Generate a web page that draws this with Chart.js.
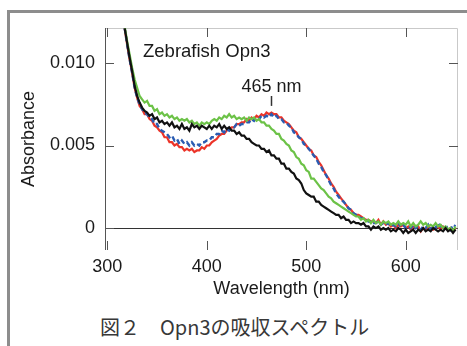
<!DOCTYPE html>
<html>
<head>
<meta charset="utf-8">
<script src="https://cdn.jsdelivr.net/npm/chart.js@4/dist/chart.umd.min.js"></script>
<style>
    body { margin: 0; width: 467px; height: 346px; overflow: hidden; background: #fff; position: relative; }
    .frame {
        position: absolute; left: 7px; top: 10px; width: 500px; height: 400px;
        border-top: 3px solid #8d8d8d; border-left: 3px solid #8d8d8d;
    }
    #chartWrap { position: absolute; left: 0; top: 0; width: 467px; height: 310px; }
    .caption {
        position: absolute; left: 100px; top: 314px; line-height: 26px;
        font-family: "Noto Sans CJK JP", sans-serif; font-size: 20px; color: #383838;
        white-space: nowrap;
    }
</style>
</head>
<body>
<div class="frame"></div>
<div id="chartWrap"><canvas id="absChart" width="467" height="310"></canvas></div>
<div class="caption">図２　Opn3の吸収スペクトル</div>
<script>
// wavelength grid (nm), 10 per row
const wavelengths = [
    317.5, 320, 322.5, 325, 327.5, 330, 332.5, 335, 337.5, 340,
    342.5, 345, 347.5, 350, 352.5, 355, 357.5, 360, 362.5, 365,
    367.5, 370, 372.5, 375, 377.5, 380, 382.5, 385, 387.5, 390,
    392.5, 395, 397.5, 400, 402.5, 405, 407.5, 410, 412.5, 415,
    417.5, 420, 422.5, 425, 427.5, 430, 432.5, 435, 437.5, 440,
    442.5, 445, 447.5, 450, 452.5, 455, 457.5, 460, 462.5, 465,
    467.5, 470, 472.5, 475, 477.5, 480, 482.5, 485, 487.5, 490,
    492.5, 495, 497.5, 500, 502.5, 505, 507.5, 510, 512.5, 515,
    517.5, 520, 522.5, 525, 527.5, 530, 532.5, 535, 537.5, 540,
    542.5, 545, 547.5, 550, 552.5, 555, 557.5, 560, 562.5, 565,
    567.5, 570, 572.5, 575, 577.5, 580, 582.5, 585, 587.5, 590,
    592.5, 595, 597.5, 600, 602.5, 605, 607.5, 610, 612.5, 615,
    617.5, 620, 622.5, 625, 627.5, 630, 632.5, 635, 637.5, 640,
    642.5, 645, 647.5, 650];

const blackAbs = [
    0.0121, 0.0112, 0.0103, 0.0095, 0.0086, 0.0080, 0.0076, 0.0073, 0.0071, 0.0070,
    0.0068, 0.0069, 0.0066, 0.0067, 0.0064, 0.0065, 0.0063, 0.0064, 0.0062, 0.0064,
    0.0061, 0.0062, 0.0060, 0.0063, 0.0060, 0.0061, 0.0059, 0.0063, 0.0061, 0.0062,
    0.0060, 0.0062, 0.0061, 0.0060, 0.0062, 0.0060, 0.0062, 0.0061, 0.0063, 0.0060,
    0.0062, 0.0060, 0.0061, 0.0059, 0.0059, 0.0057, 0.0058, 0.0056, 0.0056, 0.0054,
    0.0054, 0.0052, 0.0051, 0.0050, 0.0050, 0.0048, 0.0048, 0.0046, 0.0047, 0.0044,
    0.0044, 0.0042, 0.0042, 0.0039, 0.0039, 0.0036, 0.0036, 0.0034, 0.0033, 0.0030,
    0.0029, 0.0027, 0.0023, 0.0021, 0.0020, 0.0019, 0.0019, 0.0016, 0.0016, 0.0014,
    0.0013, 0.0012, 0.0011, 0.0010, 0.0009, 0.0008, 0.0008, 0.0006, 0.0007, 0.0005,
    0.0005, 0.0003, 0.0004, 0.0003, 0.0003, 0.0002, 0.0003, 0.0001, 0.0001, -0.0001,
    0.0001, 0.0000, 0.0001, -0.0001, 0.0000, -0.0001, 0.0000, -0.0002, -0.0001, -0.0002,
    0.0000, -0.0001, -0.0003, -0.0001, -0.0003, -0.0002, -0.0001, -0.0003, -0.0001, -0.0002,
    0.0000, -0.0002, -0.0001, -0.0002, 0.0000, -0.0001, -0.0002, -0.0001, -0.0002, 0.0000,
    -0.0002, -0.0001, -0.0003, -0.0001];

const greenAbs = [
    0.0122, 0.0113, 0.0105, 0.0097, 0.0090, 0.0085, 0.0080, 0.0078, 0.0076, 0.0077,
    0.0074, 0.0074, 0.0071, 0.0072, 0.0069, 0.0070, 0.0068, 0.0069, 0.0067, 0.0068,
    0.0066, 0.0067, 0.0065, 0.0066, 0.0065, 0.0066, 0.0064, 0.0065, 0.0063, 0.0064,
    0.0062, 0.0064, 0.0063, 0.0064, 0.0063, 0.0065, 0.0066, 0.0065, 0.0067, 0.0066,
    0.0068, 0.0067, 0.0069, 0.0067, 0.0068, 0.0066, 0.0067, 0.0066, 0.0067, 0.0065,
    0.0067, 0.0066, 0.0067, 0.0065, 0.0066, 0.0064, 0.0064, 0.0062, 0.0062, 0.0060,
    0.0059, 0.0057, 0.0057, 0.0054, 0.0053, 0.0051, 0.0050, 0.0047, 0.0046, 0.0043,
    0.0042, 0.0039, 0.0038, 0.0035, 0.0034, 0.0030, 0.0030, 0.0028, 0.0026, 0.0024,
    0.0023, 0.0021, 0.0019, 0.0018, 0.0016, 0.0015, 0.0014, 0.0013, 0.0012, 0.0011,
    0.0010, 0.0009, 0.0008, 0.0007, 0.0007, 0.0005, 0.0006, 0.0004, 0.0005, 0.0003,
    0.0005, 0.0003, 0.0004, 0.0002, 0.0004, 0.0003, 0.0004, 0.0002, 0.0003, 0.0002,
    0.0004, 0.0002, 0.0003, 0.0002, 0.0004, 0.0001, 0.0003, 0.0001, 0.0002, 0.0004,
    0.0002, 0.0003, 0.0001, 0.0002, 0.0001, 0.0003, 0.0001, 0.0002, 0.0000, 0.0001,
    -0.0001, 0.0000, -0.0002, 0.0001];

const blueAbs = [
    0.0121, 0.0111, 0.0102, 0.0094, 0.0085, 0.0079, 0.0075, 0.0072, 0.0070, 0.0069,
    0.0067, 0.0066, 0.0063, 0.0063, 0.0060, 0.0059, 0.0058, 0.0057, 0.0055, 0.0056,
    0.0053, 0.0054, 0.0051, 0.0053, 0.0051, 0.0052, 0.0050, 0.0052, 0.0050, 0.0051,
    0.0050, 0.0052, 0.0052, 0.0053, 0.0053, 0.0055, 0.0055, 0.0057, 0.0057, 0.0059,
    0.0058, 0.0060, 0.0059, 0.0061, 0.0061, 0.0063, 0.0062, 0.0063, 0.0063, 0.0064,
    0.0064, 0.0066, 0.0065, 0.0067, 0.0066, 0.0068, 0.0067, 0.0068, 0.0067, 0.0069,
    0.0067, 0.0068, 0.0066, 0.0066, 0.0064, 0.0064, 0.0062, 0.0061, 0.0058, 0.0057,
    0.0055, 0.0054, 0.0051, 0.0050, 0.0048, 0.0046, 0.0044, 0.0042, 0.0039, 0.0037,
    0.0034, 0.0032, 0.0029, 0.0026, 0.0024, 0.0021, 0.0019, 0.0017, 0.0016, 0.0014,
    0.0012, 0.0011, 0.0009, 0.0008, 0.0007, 0.0006, 0.0006, 0.0005, 0.0004, 0.0004,
    0.0003, 0.0003, 0.0004, 0.0002, 0.0003, 0.0002, 0.0003, 0.0001, 0.0002, 0.0001,
    0.0003, 0.0001, 0.0002, 0.0000, 0.0001, 0.0000, 0.0002, 0.0000, 0.0001, -0.0001,
    0.0001, 0.0000, 0.0002, -0.0001, 0.0001, 0.0000, 0.0003, 0.0001, 0.0002, 0.0000,
    0.0001, -0.0001, 0.0002, 0.0001];

const redAbs = [
    0.0121, 0.0111, 0.0102, 0.0094, 0.0085, 0.0079, 0.0074, 0.0072, 0.0069, 0.0069,
    0.0066, 0.0065, 0.0062, 0.0061, 0.0059, 0.0058, 0.0055, 0.0055, 0.0052, 0.0052,
    0.0050, 0.0051, 0.0049, 0.0049, 0.0047, 0.0048, 0.0047, 0.0048, 0.0046, 0.0047,
    0.0047, 0.0049, 0.0048, 0.0050, 0.0050, 0.0052, 0.0053, 0.0054, 0.0056, 0.0057,
    0.0057, 0.0059, 0.0060, 0.0061, 0.0061, 0.0063, 0.0063, 0.0064, 0.0064, 0.0066,
    0.0065, 0.0067, 0.0066, 0.0068, 0.0067, 0.0069, 0.0068, 0.0070, 0.0069, 0.0070,
    0.0069, 0.0069, 0.0067, 0.0067, 0.0065, 0.0064, 0.0063, 0.0061, 0.0059, 0.0058,
    0.0055, 0.0054, 0.0052, 0.0050, 0.0048, 0.0047, 0.0044, 0.0043, 0.0040, 0.0038,
    0.0035, 0.0032, 0.0030, 0.0027, 0.0025, 0.0022, 0.0020, 0.0018, 0.0016, 0.0014,
    0.0012, 0.0011, 0.0009, 0.0008, 0.0008, 0.0007, 0.0006, 0.0005, 0.0005, 0.0004,
    0.0004, 0.0003, 0.0005, 0.0002, 0.0004, 0.0002, 0.0003, 0.0001, 0.0002, 0.0000,
    0.0002, 0.0001, 0.0002, 0.0000, 0.0001, -0.0001, 0.0001, 0.0000, 0.0001, -0.0002,
    0.0000, -0.0001, 0.0001, 0.0000, -0.0001, 0.0000, 0.0001, -0.0001, 0.0001, 0.0000,
    -0.0001, 0.0000, -0.0002, 0.0000];

const xTicks = [300, 400, 500, 600];
const xTickLabels = ['300', '400', '500', '600'];
const yTicks = [0, 0.005, 0.010];
const yTickLabels = ['0', '0.005', '0.010'];

const peakWavelength = 465;
const peakLabel = '465 nm';
const sampleLabel = 'Zebrafish Opn3';

const FONT = '"Liberation Sans", Arial, sans-serif';

function toPoints(values) {
    return wavelengths.map((w, i) => ({ x: w, y: values[i] }));
}

// frame, zero line and inward tick marks
const framePlugin = {
    id: 'frame',
    beforeDatasetsDraw(chart) {
        const { ctx, chartArea: a, scales: { x, y } } = chart;
        ctx.save();
        ctx.lineWidth = 1;
        ctx.strokeStyle = '#c9c9c9';
        ctx.beginPath();
        ctx.moveTo(a.left, a.top + 0.5);
        ctx.lineTo(a.right - 0.5, a.top + 0.5);
        ctx.lineTo(a.right - 0.5, a.bottom);
        ctx.stroke();

        ctx.strokeStyle = '#555';
        ctx.beginPath();
        ctx.moveTo(a.left + 0.5, a.top);
        ctx.lineTo(a.left + 0.5, a.bottom);
        ctx.stroke();

        // zero line
        const y0 = Math.round(y.getPixelForValue(0)) + 0.5;
        ctx.strokeStyle = '#333';
        ctx.beginPath();
        ctx.moveTo(a.left, y0);
        ctx.lineTo(a.right, y0);
        ctx.stroke();

        const len = 9;
        ctx.strokeStyle = '#555';
        ctx.beginPath();
        xTicks.forEach(v => {
            const px = Math.round(x.getPixelForValue(v)) + 0.5;
            ctx.moveTo(px, a.bottom);
            ctx.lineTo(px, a.bottom - len);
            ctx.moveTo(px, a.top);
            ctx.lineTo(px, a.top + len);
        });
        yTicks.forEach(v => {
            const py = Math.round(y.getPixelForValue(v)) + 0.5;
            ctx.moveTo(a.left, py);
            ctx.lineTo(a.left + len, py);
            ctx.moveTo(a.right, py);
            ctx.lineTo(a.right - len, py);
        });
        ctx.stroke();
        ctx.restore();
    },
    afterDraw(chart) {
        const { ctx, chartArea: a, scales: { x, y } } = chart;
        ctx.save();
        ctx.fillStyle = '#1a1a1a';
        ctx.font = '18.5px ' + FONT;
        ctx.textBaseline = 'middle';
        ctx.textAlign = 'left';
        ctx.fillText(sampleLabel, a.left + 38, a.top + 24);

        const px = x.getPixelForValue(peakWavelength);
        ctx.font = '18px ' + FONT;
        ctx.textAlign = 'center';
        ctx.fillText(peakLabel, px, y.getPixelForValue(0.00855));
        ctx.strokeStyle = '#333';
        ctx.lineWidth = 1.5;
        ctx.beginPath();
        ctx.moveTo(Math.round(px) + 0.5, y.getPixelForValue(0.0080));
        ctx.lineTo(Math.round(px) + 0.5, y.getPixelForValue(0.0074));
        ctx.stroke();
        ctx.restore();
    }
};

const ctx = document.getElementById('absChart').getContext('2d');
const chart = new Chart(ctx, {
    type: 'line',
    data: {
        datasets: [
            { label: 'black', data: toPoints(blackAbs), borderColor: '#111111', borderWidth: 2.2, order: 0 },
            { label: 'green', data: toPoints(greenAbs), borderColor: '#6cc247', borderWidth: 2.2, order: 1 },
            { label: 'blue', data: toPoints(blueAbs), borderColor: '#2a5cb2', borderWidth: 2.4, borderDash: [5, 3], order: 2 },
            { label: 'red', data: toPoints(redAbs), borderColor: '#ec3429', borderWidth: 2.2, order: 3 }
        ]
    },
    options: {
        responsive: false,
        animation: false,
        layout: { padding: { left: 0, top: 28, right: 9, bottom: 0 } },
        elements: { point: { radius: 0 }, line: { tension: 0 } },
        plugins: { legend: { display: false }, tooltip: { enabled: false } },
        scales: {
            x: {
                type: 'linear',
                min: 297.7,
                max: 652.5,
                afterFit: s => { s.height = 60; },
                afterBuildTicks: s => { s.ticks = xTicks.map(v => ({ value: v })); },
                grid: { display: false, drawTicks: false },
                border: { display: false },
                ticks: {
                    padding: 6,
                    color: '#1a1a1a',
                    font: { family: FONT, size: 18 },
                    maxRotation: 0,
                    callback: v => xTickLabels[xTicks.indexOf(v)]
                },
                title: {
                    display: true,
                    text: 'Wavelength (nm)',
                    color: '#1a1a1a',
                    font: { family: FONT, size: 18 },
                    padding: { top: 0, bottom: 10 }
                }
            },
            y: {
                type: 'linear',
                min: -0.00133,
                max: 0.01212,
                afterFit: s => { s.width = 105; },
                afterBuildTicks: s => { s.ticks = yTicks.map(v => ({ value: v })); },
                grid: { display: false, drawTicks: false },
                border: { display: false },
                ticks: {
                    padding: 10,
                    color: '#1a1a1a',
                    font: { family: FONT, size: 18 },
                    callback: v => yTickLabels[yTicks.indexOf(v)]
                },
                title: {
                    display: true,
                    text: 'Absorbance',
                    color: '#1a1a1a',
                    font: { family: FONT, size: 18 },
                    padding: { top: 18, bottom: 0 }
                }
            }
        }
    },
    plugins: [framePlugin]
});
</script>
</body>
</html>
